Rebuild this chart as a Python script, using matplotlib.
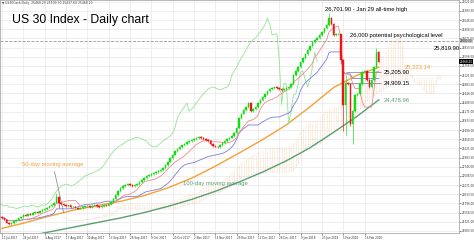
import numpy as np
import pandas as pd
import matplotlib
matplotlib.use('Agg')
import matplotlib.pyplot as plt
from matplotlib.transforms import blended_transform_factory

# daily closes, US30Cash
closes = [21419, 21380, 21300, 21263, 21290, 21330, 21367, 21410, 21450, 21497,
          21480, 21520, 21505, 21548, 21570, 21560, 21600, 21626, 21650, 21690,
          21720, 21755, 21820, 21963, 21800, 21781, 21760, 21730, 21745, 21700,
          21704, 21690, 21660, 21678, 21700, 21720, 21730, 21710, 21740, 21755,
          21720, 21700, 21730, 21760, 21750, 21781, 21840, 21911, 22010, 22118,
          22190, 22248, 22270, 22300, 22280, 22248, 22270, 22300, 22350, 22403,
          22450, 22507, 22530, 22559, 22580, 22610, 22640, 22662, 22720, 22792,
          22880, 22973, 23060, 23154, 23200, 23258, 23300, 23335, 23380, 23413,
          23440, 23465, 23490, 23517, 23490, 23465, 23440, 23413, 23340, 23284,
          23270, 23258, 23310, 23361, 23420, 23465, 23500, 23543, 23620, 23750,
          24009, 24120, 24216, 24300, 24397, 24190, 24240, 24294, 24400, 24475,
          24560, 24630, 24700, 24760, 24790, 24812, 24790, 24760, 24740, 24760,
          24790, 24812, 24890, 25122, 25230, 25330, 25450, 25563, 25660, 25770,
          25880, 25977, 26040, 26081, 26160, 26236, 26330, 26418, 26599, 26443,
          26159, 26184, 26186, 25511, 24346, 24915, 24890, 23853, 24190, 24604,
          24630, 24890, 25200, 25226, 24993, 24812, 24993, 25330, 25718, 25468]
first_open = 21440
wick_highs = {23: 22050, 138: 26702, 139: 26610, 143: 26150, 145: 25100, 158: 25800}
wick_lows = {24: 21700, 143: 25420, 144: 23700, 145: 23600, 147: 23820, 148: 23360}

# moving averages sampled off the chart (bar index -> price)
ma_bars = [0, 10, 20, 30, 40, 50, 60, 70, 80, 90, 100, 110, 120, 130, 140, 150, 159]
ma50 = [21150, 21300, 21470, 21620, 21740, 21850, 22000, 22200, 22450, 22760,
        23100, 23450, 23830, 24300, 24800, 25120, 25323]
ma100 = [20820, 20940, 21060, 21180, 21300, 21420, 21560, 21720, 21900, 22110,
         22350, 22610, 22900, 23240, 23640, 24060, 24479]

holidays = ['2017-09-04', '2017-11-23', '2017-12-25', '2018-01-01', '2018-01-15', '2018-02-19']
last_price = 25468.20
psych_level = 26000
support_levels = [25205.90, 24909.15]

n = len(closes)
opens = [first_open] + closes[:-1]
df = pd.DataFrame({'o': opens, 'c': closes})
df['h'] = df[['o', 'c']].max(axis=1)
df['l'] = df[['o', 'c']].min(axis=1)
for k, v in wick_highs.items():
    df.loc[k, 'h'] = v
for k, v in wick_lows.items():
    df.loc[k, 'l'] = v
dates = pd.bdate_range(end='2018-02-27', periods=n, freq='C', holidays=holidays)
x = np.arange(n)

# ichimoku from the candles
def mid(win):
    return (df.h.rolling(win, min_periods=1).max() + df.l.rolling(win, min_periods=1).min()) / 2

tenkan = mid(9)
kijun = mid(26)
span_a = (tenkan + kijun) / 2
span_b = mid(52)

fig = plt.figure(figsize=(4.74, 2.40), dpi=100)
ax = fig.add_axes([0.0, 0.029, 0.968, 0.971])
ax.set_xlim(-0.84, 192.8)
ax.set_ylim(21030, 27065)

# cloud, drawn as thin dotted columns like the terminal does
ax.vlines(x + 26, np.minimum(span_a, span_b), np.maximum(span_a, span_b),
          colors='#fbd9bd', lw=0.5, linestyles=(0, (1.5, 0.8)), zorder=1)
ax.plot(x + 26, span_a, color='#f6c79e', lw=0.4, ls=':', zorder=1)
ax.plot(x + 26, span_b, color='#e2cde2', lw=0.4, ls=':', zorder=1)

ax.plot(ma_bars, ma100, color='#5a9f72', lw=1.0, zorder=2)
ax.plot(ma_bars, ma50, color='#f5a033', lw=1.0, zorder=2)
ax.plot(x - 26, closes, color='#93e493', lw=0.6, zorder=2)
ax.plot(x, kijun, color='#7c7ce0', lw=0.6, zorder=2)
ax.plot(x, tenkan, color='#f08a8a', lw=0.6, zorder=2)

# candles
up = df.c >= df.o
colors = np.where(up, '#14dc14', '#f01414')
ax.vlines(x, df.l - 20, df.h + 20, colors=colors, lw=0.45, zorder=3)
ax.bar(x, df.c - df.o, bottom=df.o, width=0.62, color=colors,
       edgecolor=colors, lw=0.3, zorder=4)

# horizontal levels
ax.axhline(psych_level, color='#9a9a9a', lw=0.6, ls='--', zorder=2)
ax.hlines(support_levels, 145, 160, color='#8a8fa8', lw=0.6, zorder=2)

fs = 4.2
tf = dict(family='Liberation Sans', fontsize=fs)
ax.text(0.026, 0.915, 'US 30 Index - Daily chart', transform=ax.transAxes,
        family='Liberation Sans', fontsize=8.8, va='center', ha='left')
ax.text(0.004, 0.995, '\u25bc US30Cash,Daily  25468.20 25509.30 25437.60 25468.20',
        transform=ax.transAxes, fontsize=2.2, color='#444444', va='top')
ax.text(136.5, 26765, '26,701.90 - Jan 29 all-time high', va='bottom', **tf)
ax.text(147, 26080, '26,000 potential psychological level', va='bottom', **tf)
ax.text(182, 25819.9, '25,819.90', va='center', **tf)
ax.text(170, 25323.14, '25,323.14', va='center', color='#f5a033', **tf)
ax.text(161, 25205.90, '25,205.90', va='center', **tf)
ax.text(161, 24909.15, '24,909.15', va='center', **tf)
ax.text(161, 24478.96, '24,478.96', va='center', color='#5a9f72', **tf)
ax.annotate('50-day moving average', xy=(26, 21560), xytext=(8.5, 22817),
            va='center', color='#f5a033',
            arrowprops=dict(arrowstyle='-', color='#808080', lw=0.5,
                            shrinkA=1.5, shrinkB=0), **tf)
ax.text(76.4, 22325, '100-day moving average', va='center', color='#5a9f72', **tf)

# axes, grid, labels
yt = 27021 - 237.5 * np.arange(0, 26)
ax.set_yticks(yt)
ax.set_yticklabels([f'{v:.2f}' for v in yt])
ax.yaxis.tick_right()
xt = np.arange(0, n, 9)
ax.set_xticks(xt)
ax.set_xticklabels([f'{d.day} {d:%b %Y}' for d in dates[xt]], ha='left')
ax.tick_params(axis='both', labelsize=2.0, length=1.2, width=0.4, pad=0.8,
               colors='#333333')
ax.grid(True, color='#e8e8e8', lw=0.5)
ax.set_axisbelow(True)
for s in ax.spines.values():
    s.set_color('#9a9a9a')
    s.set_linewidth(0.5)

tr = blended_transform_factory(ax.transAxes, ax.transData)
ax.text(1.002, last_price, f'{last_price:.2f}', transform=tr, fontsize=2.0,
        color='white', va='center', ha='left',
        bbox=dict(boxstyle='square,pad=0.12', fc='black', ec='none'))
ax.text(1.002, psych_level, f'{psych_level:.2f}', transform=tr, fontsize=2.0,
        color='#222222', va='center', ha='left',
        bbox=dict(boxstyle='square,pad=0.12', fc='#c8c8c8', ec='none'))

fig.savefig('out.png', dpi=100)
